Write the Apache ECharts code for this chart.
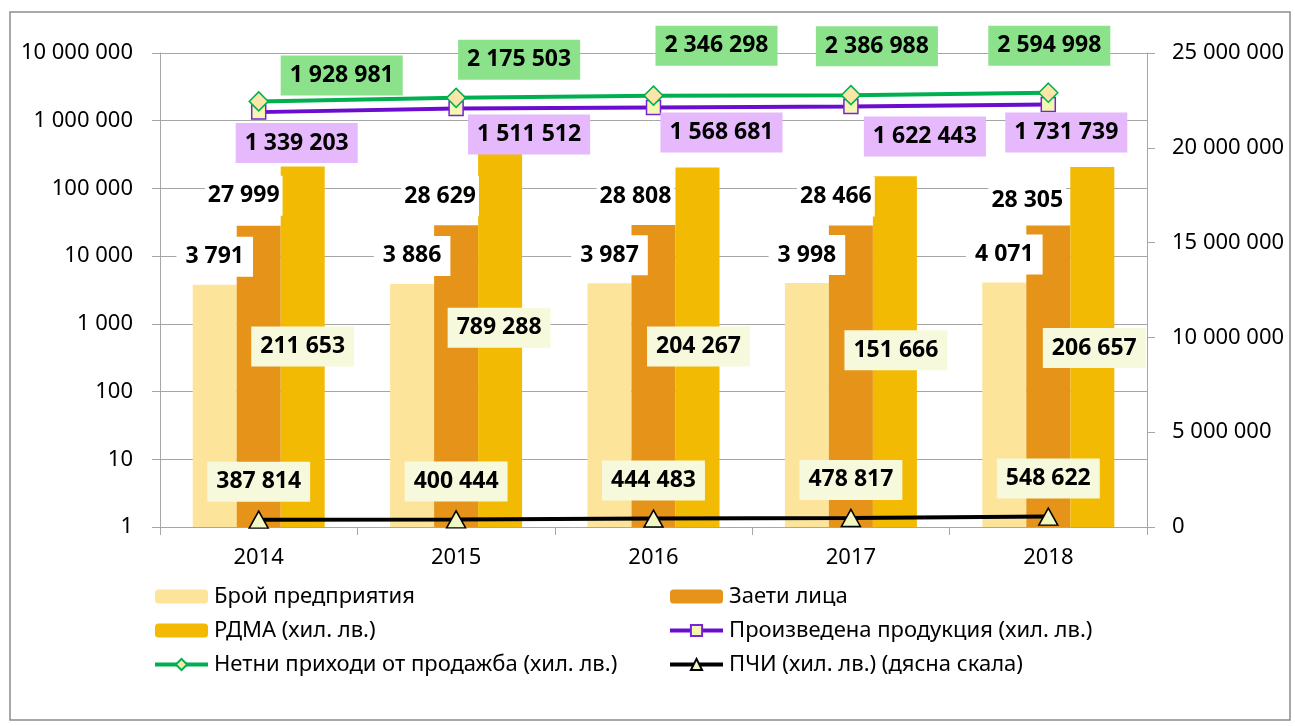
<!DOCTYPE html>
<html>
<head>
<meta charset="utf-8">
<script src="https://cdn.jsdelivr.net/npm/echarts@6/dist/echarts.min.js"></script>
<style>
html,body{margin:0;padding:0;background:#fff}
#chart{width:1295px;height:726px}
</style>
</head>
<body>
<div id="chart"></div>
<script>
// години
var godini = ['2014', '2015', '2016', '2017', '2018']

// данни
var broi = [3791, 3886, 3987, 3998, 4071]
var zaeti = [27999, 28629, 28808, 28466, 28305]
var rdma = [211653, 789288, 204267, 151666, 206657]
var produkcia = [1339203, 1511512, 1568681, 1622443, 1731739]
var prihodi = [1928981, 2175503, 2346298, 2386988, 2594998]
var pchi = [387814, 400444, 444483, 478817, 548622]

// имена
var imena = ['Брой предприятия', 'Заети лица', 'РДМА (хил. лв.)',
	'Произведена продукция (хил. лв.)', 'Нетни приходи от продажба (хил. лв.)',
	'ПЧИ (хил. лв.) (дясна скала)']

// отмествания на етикетите (само разположение)
var zaetiOff = [[-15, -10], [-16, -9], [-18, -9], [-15, -9], [-21, -5]]
var rdmaOff = [[0, 200], [-1, 220], [1, 199], [1, 194], [2, 201]]
var prihodiOff = [[83, -26], [63, -38], [63, -50], [26, -49], [1, -47]]
var produkciaOff = [[38, 31], [73, 26], [68, 25], [74, 30], [18, 28]]

var shrift = 'Noto Sans'

function fmt(v) {
	return String(Math.round(v)).replace(/\B(?=(\d{3})+(?!\d))/g, ' ')
}

function etiket(fon) {
	return {
		show: true,
		fontFamily: shrift,
		fontSize: 23,
		fontWeight: 'bold',
		color: '#000',
		lineHeight: 28,
		padding: [6, 9],
		borderRadius: 0,
		backgroundColor: fon,
		formatter: function (p) { return fmt(p.value) }
	}
}

function sOtm(arr, off) {
	var res = []
	for (var i = 0; i < arr.length; i++) {
		res.push({ value: arr[i], label: { offset: off[i] } })
	}
	return res
}

var myChart = echarts.init(document.getElementById('chart'))

var lb1 = etiket('#ffffff'); lb1.position = 'top'; lb1.distance = 0; lb1.offset = [0, -8]
var lb2 = etiket('#ffffff'); lb2.position = 'top'; lb2.distance = 0; lb2.padding = [6, 3]
var lb3 = etiket('#F6F9DC'); lb3.position = 'top'; lb3.distance = 0
var lb4 = etiket('#E5B9FC'); lb4.position = 'inside'
var lb5 = etiket('#8BE28B'); lb5.position = 'inside'
var lb6 = etiket('#F6F9DC'); lb6.position = 'inside'; lb6.offset = [0, -38]

var legText = { fontFamily: shrift, fontSize: 22, color: '#000', lineHeight: 25, padding: [0, 0, 0, 1] }

var option = {
	animation: false,
	textStyle: { fontFamily: shrift },
	graphic: [{
		type: 'rect',
		shape: { x: 10, y: 12, width: 1280, height: 708 },
		style: { fill: 'none', stroke: '#8C8C8C', lineWidth: 1.5 },
		z: -1
	}],
	grid: { left: 160, right: 148, top: 53, bottom: 199 },
	legend: [{
		orient: 'vertical',
		left: 153, top: 584, padding: 0,
		itemWidth: 53, itemHeight: 14, itemGap: 9,
		lineStyle: { width: 4 },
		textStyle: legText,
		data: [imena[0], imena[2], imena[4]]
	}, {
		orient: 'vertical',
		left: 668, top: 584, padding: 0,
		itemWidth: 53, itemHeight: 14, itemGap: 9,
		lineStyle: { width: 4 },
		textStyle: legText,
		data: [imena[1], imena[3], imena[5]]
	}],
	xAxis: {
		type: 'category',
		data: godini,
		axisLine: { lineStyle: { color: '#A6A6A6', width: 1 } },
		axisTick: { show: true, length: 8, lineStyle: { color: '#A6A6A6' } },
		axisLabel: { fontFamily: shrift, fontSize: 22, color: '#000', margin: 20 }
	},
	yAxis: [{
		type: 'log',
		logBase: 10,
		min: 1,
		max: 10000000,
		splitNumber: 7,
		axisLine: { show: true, lineStyle: { color: '#A6A6A6' } },
		axisTick: { show: true, length: 8, lineStyle: { color: '#A6A6A6' } },
		splitLine: { lineStyle: { color: '#A6A6A6', width: 1 } },
		minorTick: { show: false },
		axisLabel: { fontFamily: shrift, fontSize: 22, color: '#000', margin: 27, formatter: fmt }
	}, {
		type: 'value',
		min: 0,
		max: 25000000,
		interval: 5000000,
		axisLine: { show: true, lineStyle: { color: '#A6A6A6' } },
		axisTick: { show: true, length: 8, lineStyle: { color: '#A6A6A6' } },
		splitLine: { show: false },
		axisLabel: { fontFamily: shrift, fontSize: 22, color: '#000', margin: 25, formatter: fmt }
	}],
	series: [{
		name: imena[0],
		type: 'bar',
		barWidth: 44,
		barGap: '0%',
		itemStyle: { color: '#FDE49B' },
		label: lb1,
		data: broi
	}, {
		name: imena[1],
		type: 'bar',
		barWidth: 44,
		barGap: '0%',
		itemStyle: { color: '#E69419' },
		label: lb2,
		data: sOtm(zaeti, zaetiOff)
	}, {
		name: imena[2],
		type: 'bar',
		barWidth: 44,
		barGap: '0%',
		itemStyle: { color: '#F2BA03' },
		label: lb3,
		data: sOtm(rdma, rdmaOff)
	}, {
		name: imena[3],
		type: 'line',
		symbol: 'rect',
		symbolSize: 14,
		lineStyle: { color: '#6A0DCF', width: 4 },
		itemStyle: { color: '#F3F7B2', borderColor: '#7A22D8', borderWidth: 1.5 },
		label: lb4,
		z: 3,
		data: sOtm(produkcia, produkciaOff)
	}, {
		name: imena[4],
		type: 'line',
		symbol: 'diamond',
		symbolSize: [19, 19],
		lineStyle: { color: '#00B050', width: 4 },
		itemStyle: { color: '#FCE5A8', borderColor: '#00B050', borderWidth: 1.5 },
		label: lb5,
		z: 4,
		data: sOtm(prihodi, prihodiOff)
	}, {
		name: imena[5],
		type: 'line',
		yAxisIndex: 1,
		symbol: 'triangle',
		symbolSize: [19, 17],
		lineStyle: { color: '#000', width: 4 },
		itemStyle: { color: '#F2F8C4', borderColor: '#000', borderWidth: 1.5 },
		label: lb6,
		z: 4,
		data: pchi
	}]
}

myChart.setOption(option)
</script>
</body>
</html>
